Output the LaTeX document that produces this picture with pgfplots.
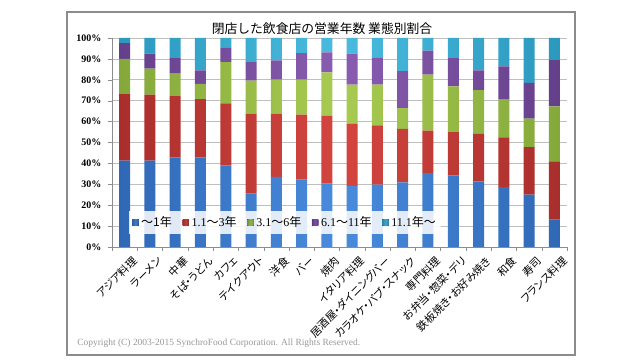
\documentclass[border=0pt]{standalone}
\usepackage{fontspec}
\setmainfont{Liberation Serif}
\newfontfamily\jp{Noto Sans CJK JP}
\newfontfamily\jpp[RawFeature=+palt]{Noto Sans CJK JP}
\usepackage{pgfplots}
\pgfplotsset{compat=1.18}
\definecolor{bD}{HTML}{2F68B5}\definecolor{bL}{HTML}{4A8BDD}
\definecolor{rD}{HTML}{A82E2C}\definecolor{rL}{HTML}{D4463F}
\definecolor{gD}{HTML}{84A83A}\definecolor{gL}{HTML}{A8CB52}
\definecolor{pD}{HTML}{643F8A}\definecolor{pL}{HTML}{8A5DB0}
\definecolor{cD}{HTML}{2B98BE}\definecolor{cL}{HTML}{4ABBDF}
\definecolor{frame}{HTML}{8C8C8C}
\definecolor{gridc}{HTML}{BFBFBF}
\newcommand{\J}[1]{{\jp #1}}
\pgfplotstableread{
x a b c d e
0 41.3 31.9 16.8 7.6 2.4
1 41.3 31.6 12.4 7.2 7.5
2 42.9 29.5 10.5 7.5 9.6
3 42.9 27.9 7.3 6.4 15.5
4 39.1 29.6 19.7 7.1 4.5
5 25.5 38.3 15.8 9.2 11.2
6 33.5 30.3 16.3 9.2 10.7
7 32.2 31.1 16.8 12.7 7.2
8 30.3 32.5 20.8 9.5 6.9
9 29.3 29.6 18.8 14.8 7.5
10 29.8 28.4 19.5 13.0 9.3
11 30.9 25.6 10.0 17.6 15.9
12 35.4 20.3 26.8 11.4 6.1
13 34.3 20.7 21.9 13.5 9.6
14 31.4 22.7 20.9 9.5 15.5
15 28.7 23.8 18.0 15.9 13.6
16 25.0 22.8 13.6 17.1 21.5
17 13.1 27.9 26.3 22.3 10.4
}\data
\begin{document}
\begin{tikzpicture}[x=0.75pt,y=0.75pt]
\fill[white] (0,0) rectangle (640,360);
\draw[frame, line width=0.8pt] (67,5) rectangle (575,348);
\node[font=\jp\fontsize{9.6}{10}\selectfont] at (322,331) {閉店した飲食店の営業年数 業態別割合};
\node[anchor=west, font=\fontsize{7.1}{8}\selectfont, text=black!40, inner sep=0pt] at (77,17) {Copyright (C) 2003-2015 SynchroFood Corporation. All Rights Reserved.};
\begin{axis}[
  at={(84pt,84.75pt)}, anchor=south west,
  scale only axis, width=341.25pt, height=156.75pt,
  xmin=-0.5, xmax=17.5, ymin=0, ymax=100,
  ybar stacked, bar width=8.25pt,
  axis x line*=bottom, axis y line*=left,
  axis line style={draw=frame, -},
  xtick={0,...,17},
  xticklabels={アジア料理,ラーメン,中華,そば・うどん,カフェ,テイクアウト,洋食,バー,焼肉,イタリア料理,居酒屋・ダイニングバー,カラオケ・パブ・スナック,専門料理,お弁当・惣菜・デリ,鉄板焼き・お好み焼き,和食,寿司,フランス料理},
  x tick label style={rotate=45, anchor=north east, inner sep=0pt, font=\jpp\fontsize{8.1}{9}\selectfont, xshift=1.5pt, yshift=-6pt},
  major x tick style={draw=none},
  minor xtick={-0.5,0.5,...,17.5},
  minor tick length=3pt,
  minor x tick style={draw=frame},
  tick align=outside,
  ytick={0,10,...,100},
  major tick length=3pt,
  y tick style={draw=frame},
  yticklabel={\pgfmathprintnumber{\tick}\%},
  y tick label style={font=\bfseries\fontsize{7.5}{8}\selectfont, xshift=-1.5pt},
  /pgf/number format/assume math mode=true,
  ymajorgrids, grid style={draw=gridc, line width=0.5pt},
  legend style={at={(0.381,0.117)}, anchor=center, legend columns=-1, draw=none, fill=white, fill opacity=0.85, text opacity=1, font=\fontsize{9}{10}\selectfont, inner sep=2pt, /tikz/every even column/.append style={column sep=6pt}},
  legend image code/.code={\fill[#1] (0pt,-2.4pt) rectangle (4.8pt,2.4pt);},
]
\addplot[draw=none, left color=bD, right color=bD, middle color=bL] table[x=x,y=a]{\data};
\addplot[draw=none, left color=rD, right color=rD, middle color=rL] table[x=x,y=b]{\data};
\addplot[draw=none, left color=gD, right color=gD, middle color=gL] table[x=x,y=c]{\data};
\addplot[draw=none, left color=pD, right color=pD, middle color=pL] table[x=x,y=d]{\data};
\addplot[draw=none, left color=cD, right color=cD, middle color=cL] table[x=x,y=e]{\data};
\legend{\J{～1年},1.1\J{～}3\J{年},3.1\J{～}6\J{年},6.1\J{～}11\J{年},11.1\J{年～}}
\end{axis}
\end{tikzpicture}
\end{document}
